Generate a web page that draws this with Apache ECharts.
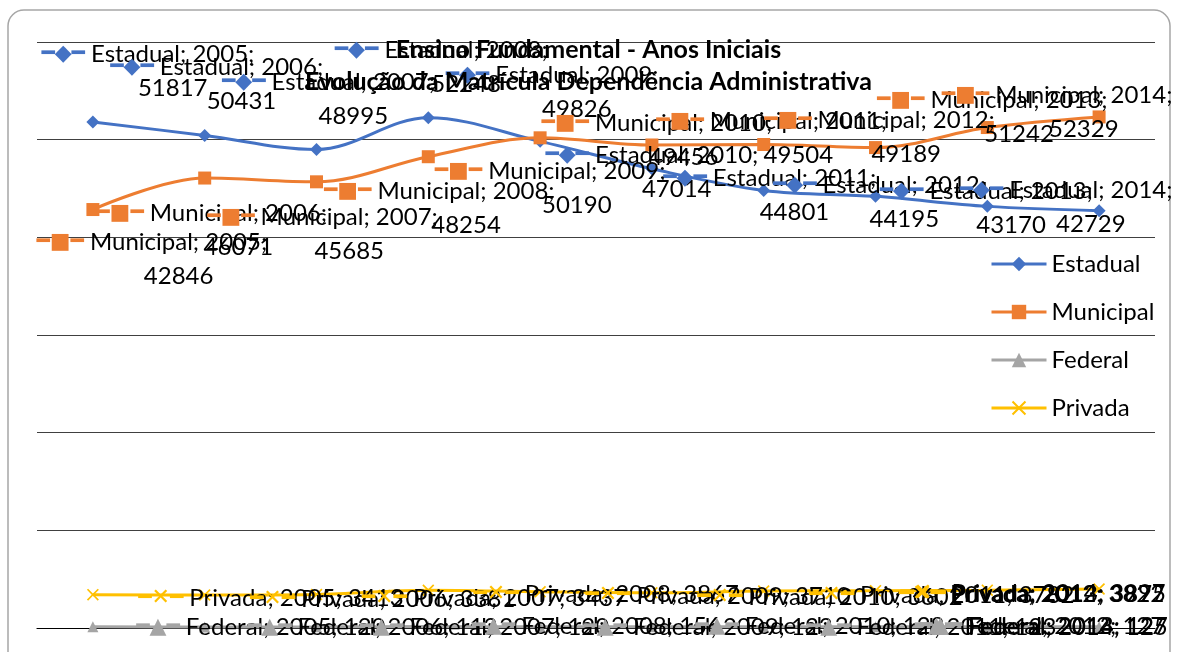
<!DOCTYPE html>
<html>
<head>
<meta charset="utf-8">
<script src="https://cdn.jsdelivr.net/npm/echarts@6/dist/echarts.min.js"></script>
<style>
  html, body { margin: 0; padding: 0; background: #fff; }
  #main { width: 1177px; height: 652px; }
</style>
</head>
<body>
<div id="main"></div>
<script>
// dados da matricula - ensino fundamental anos iniciais
var anos = ['2005', '2006', '2007', '2008', '2009', '2010', '2011', '2012', '2013', '2014']
var estadual = [51817, 50431, 48995, 52248, 49826, 47014, 44801, 44195, 43170, 42729]
var municipal = [42846, 46071, 45685, 48254, 50190, 49456, 49504, 49189, 51242, 52329]
var federal = [120, 113, 120, 156, 123, 128, 123, 127, 127, 125]
var privada = [3413, 3381, 3437, 3867, 3710, 3602, 3782, 3822, 3875, 3997]

// deslocamento dos rotulos (layout)
var desvioEstadual = [[55,-51],[12,-51],[12,-50],[13,-50],[12,-49],[0,3],[6,5],[4,6],[-1,2],[-33,-3]]
var desvioMunicipal = [[59,50],[7,52],[6,52],[11,52],[10,50],[5,-5],[8,-6],[4,-10],[5,-10],[-42,-5]]
var desvioPrivada = [178,178,178,178,178,178,178,156,46,-66]
var desvioFederal = [168,168,168,168,168,168,168,164,56,-56]

var fonte = 'Lato, "Open Sans", sans-serif'

function montaDados(lista, desvio, dy) {
  var out = []
  for (var i = 0; i < lista.length; i++) {
    var off = dy === undefined ? desvio[i] : [desvio[i], dy]
    out.push({ value: lista[i], label: { offset: off } })
  }
  return out
}

function rotulo(chave, cor, duasLinhas) {
  return {
    show: true,
    position: 'inside',
    align: 'center',
    verticalAlign: 'middle',
    color: '#000',
    fontSize: 24,
    fontFamily: fonte,
    lineHeight: 34,
    formatter: function(p) {
      var txt = '{k|' + chave + '} ' + p.seriesName + '; ' + p.name + ';'
      if (duasLinhas) {
        return txt + '\n{g|' + chave + '} ' + p.value
      }
      return txt + ' ' + p.value
    },
    rich: {
      k: { color: cor, fontSize: 22, fontFamily: 'DejaVu Sans', lineHeight: 34 },
      g: { color: 'rgba(0,0,0,0)', fontSize: 22, fontFamily: 'DejaVu Sans', lineHeight: 34 }
    }
  }
}

var cruz = 'path://M0,1L1,0L5,4L9,0L10,1L6,5L10,9L9,10L5,6L1,10L0,9L4,5Z'

var myChart = echarts.init(document.getElementById('main'))
var option = {
  backgroundColor: '#fff',
  animation: false,
  title: {
    text: 'Ensino Fundamental - Anos Iniciais\nEvolução da Matrícula Dependência Administrativa',
    left: 'center',
    top: 29,
    padding: [5, 5, 5, 29],
    textStyle: { fontSize: 25, fontWeight: 'bold', fontFamily: fonte, color: '#000', lineHeight: 32, align: 'center' }
  },
  legend: {
    orient: 'vertical',
    left: 985,
    top: 247,
    itemGap: 24,
    itemWidth: 55,
    itemHeight: 18,
    lineStyle: { width: 3 },
    textStyle: { fontSize: 24, fontFamily: fonte, color: '#000', lineHeight: 24 },
    data: ['Estadual', 'Municipal', 'Federal', 'Privada']
  },
  graphic: [{
    type: 'rect',
    shape: { x: 8, y: 10, width: 1162, height: 700, r: 16 },
    style: { fill: 'none', stroke: '#a6a6a6', lineWidth: 1.5 },
    silent: true
  }],
  grid: { left: 37, right: 22, top: 42, bottom: 24 },
  xAxis: {
    type: 'category',
    data: anos,
    axisLine: { lineStyle: { color: '#000', width: 1.2 } },
    axisTick: { show: false },
    axisLabel: { show: false }
  },
  yAxis: {
    type: 'value',
    min: 0,
    max: 60000,
    interval: 10000,
    axisLabel: { show: false },
    axisLine: { show: false },
    axisTick: { show: false },
    splitLine: { lineStyle: { color: '#404040', width: 1.2 } }
  },
  series: [
    {
      name: 'Estadual', type: 'line', smooth: 0.35,
      symbol: 'diamond', symbolSize: 13,
      itemStyle: { color: '#4472C4' },
      lineStyle: { width: 3 },
      label: rotulo('━◆━', '#4472C4', true),
      data: montaDados(estadual, desvioEstadual)
    },
    {
      name: 'Municipal', type: 'line', smooth: 0.35,
      symbol: 'rect', symbolSize: 13,
      itemStyle: { color: '#ED7D31' },
      lineStyle: { width: 3 },
      label: rotulo('━■━', '#ED7D31', true),
      data: montaDados(municipal, desvioMunicipal)
    },
    {
      name: 'Federal', type: 'line', smooth: 0.35,
      symbol: 'triangle', symbolSize: 11,
      itemStyle: { color: '#A5A5A5' },
      lineStyle: { width: 3 },
      label: rotulo('━▲━', '#A5A5A5', false),
      data: montaDados(federal, desvioFederal, 0)
    },
    {
      name: 'Privada', type: 'line', smooth: 0.35,
      symbol: cruz, symbolSize: 12,
      itemStyle: { color: '#FFC000' },
      lineStyle: { width: 3 },
      label: rotulo('━✕━', '#FFC000', false),
      data: montaDados(privada, desvioPrivada, 4)
    }
  ]
}
myChart.setOption(option)
</script>
</body>
</html>
